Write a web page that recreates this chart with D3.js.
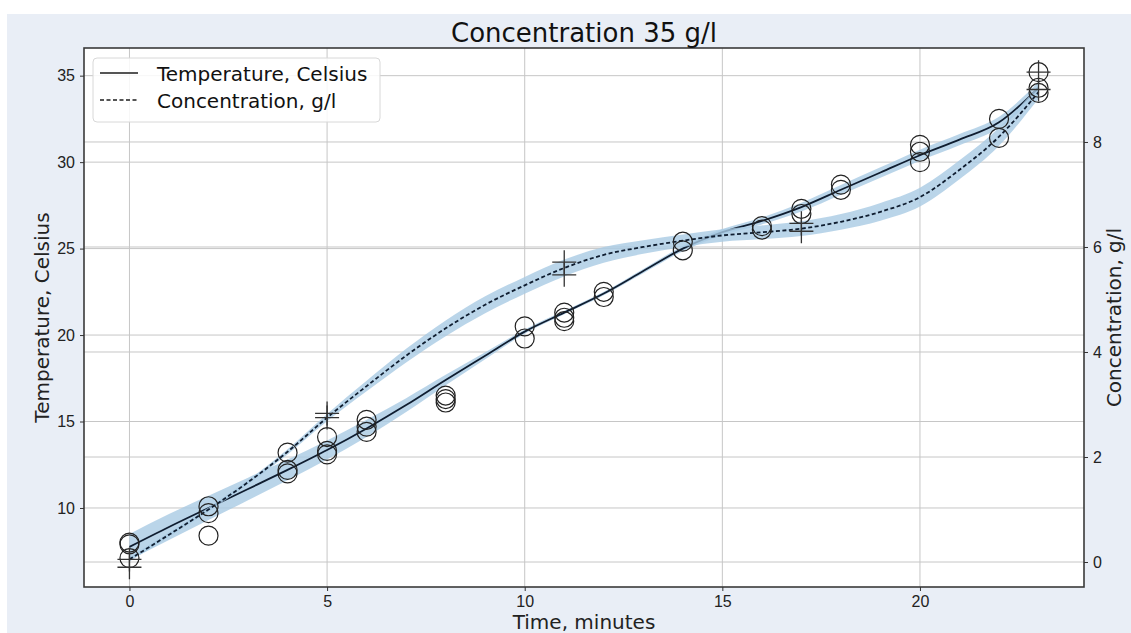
<!DOCTYPE html>
<html>
<head>
<meta charset="utf-8">
<script src="https://cdn.jsdelivr.net/npm/d3@7"></script>
<style>
	body { margin: 0; background: #ffffff; }
	svg { display: block; font-family: "DejaVu Sans", sans-serif; }
	.axis text { font-size: 16px; fill: #222; }
	.axis path { display: none; }
	.axis line { stroke: #333; }
</style>
</head>
<body>
<svg width="1131" height="633"></svg>
<script>
const w = 1131;
const h = 633;

// measured temperatures (circles), one entry per reading
const temp_times = [0, 0, 0, 2, 2, 2, 4, 4, 4, 5, 5, 5, 6, 6, 6, 8, 8, 8, 10, 10, 11, 11, 11, 12, 12,
	14, 14, 16, 16, 17, 17, 18, 18, 20, 20, 20, 22, 22, 23, 23, 23];
const temp_values = [8.0, 7.9, 7.1, 10.1, 9.7, 8.4, 13.2, 12.2, 12.0, 14.1, 13.3, 13.1, 15.1, 14.7, 14.4,
	16.5, 16.3, 16.1, 20.5, 19.8, 21.3, 21.0, 20.8, 22.5, 22.2, 25.4, 24.9, 26.3, 26.1, 27.3, 27.0,
	28.7, 28.4, 31.0, 30.6, 30.0, 32.5, 31.4, 35.2, 34.3, 34.0];

// measured concentrations (plus markers)
const conc_times = [0, 0, 5, 5, 11, 11, 17, 17, 23, 23];
const conc_values = [0.05, -0.1, 2.83, 2.75, 5.71, 5.47, 6.45, 6.3, 9.33, 9.0];

// fitted curves, with band half widths
const fit_times = [0, 1, 2, 3, 4, 5, 6, 7, 8, 9, 10, 11, 12, 13, 14, 15, 16, 17, 18, 19, 20, 21, 22, 23];
const temp_fit = [7.75, 8.9, 10.0, 11.1, 12.2, 13.35, 14.6, 15.95, 17.4, 18.8, 20.2, 21.3, 22.4, 23.7,
	25.0, 25.95, 26.6, 27.4, 28.4, 29.4, 30.4, 31.3, 32.3, 34.3];
const temp_band = [0.75, 0.75, 0.7, 0.65, 0.6, 0.55, 0.5, 0.4, 0.3, 0.2, 0.12, 0.1, 0.1, 0.12, 0.15,
	0.18, 0.2, 0.25, 0.28, 0.3, 0.32, 0.32, 0.32, 0.35];
const conc_fit = [0.05, 0.52, 1.0, 1.52, 2.1, 2.75, 3.35, 3.93, 4.45, 4.9, 5.27, 5.6, 5.85, 6.0, 6.12,
	6.22, 6.28, 6.35, 6.48, 6.67, 6.95, 7.47, 8.1, 8.95];
const conc_band = [0.04, 0.04, 0.04, 0.04, 0.05, 0.07, 0.1, 0.13, 0.15, 0.16, 0.16, 0.16, 0.15, 0.13,
	0.12, 0.12, 0.13, 0.14, 0.15, 0.17, 0.18, 0.18, 0.17, 0.12];

const x_ticks = [0, 5, 10, 15, 20];
const temp_ticks = [10, 15, 20, 25, 30, 35];
const conc_ticks = [0, 2, 4, 6, 8];

const title = "Concentration 35 g/l";
const legend_labels = ["Temperature, Celsius", "Concentration, g/l"];

const plot_left = 84, plot_right = 1084, plot_top = 48, plot_bottom = 587;
const band_color = "#a9cae3";
const line_color = "#0f1d30";

const svg = d3.select("svg");

// figure background
svg.append("rect").attr("x", 7).attr("y", 14).attr("width", w - 7).attr("height", h - 14)
	.attr("fill", "#e9eef6");
svg.append("rect").attr("x", plot_left).attr("y", plot_top)
	.attr("width", plot_right - plot_left).attr("height", plot_bottom - plot_top)
	.attr("fill", "#ffffff");

const x_scale = d3.scaleLinear().domain([-1.15, 24.15]).range([plot_left, plot_right]);
const temp_scale = d3.scaleLinear().domain([5.43, 36.6]).range([plot_bottom, plot_top]);
const conc_scale = d3.scaleLinear().domain([-0.476, 9.79]).range([plot_bottom, plot_top]);

// grid
const grid = svg.append("g").attr("stroke", "#c6c6c6").attr("stroke-width", 1);
x_ticks.forEach((t) => {
	grid.append("line").attr("x1", x_scale(t)).attr("x2", x_scale(t)).attr("y1", plot_top).attr("y2", plot_bottom);
});
temp_ticks.forEach((t) => {
	grid.append("line").attr("x1", plot_left).attr("x2", plot_right).attr("y1", temp_scale(t)).attr("y2", temp_scale(t));
});
conc_ticks.forEach((t) => {
	grid.append("line").attr("x1", plot_left).attr("x2", plot_right).attr("y1", conc_scale(t)).attr("y2", conc_scale(t));
});

// bands and fitted lines
function draw_fit(values, band, scale, dashed) {
	const rows = fit_times.map((t, i) => ({ t: t, v: values[i], b: band[i] }));
	const area = d3.area()
		.x((d) => x_scale(d.t))
		.y0((d) => scale(d.v - d.b))
		.y1((d) => scale(d.v + d.b))
		.curve(d3.curveMonotoneX);
	svg.append("path").datum(rows).attr("d", area).attr("fill", band_color).attr("opacity", 0.8);
	const line = d3.line()
		.x((d) => x_scale(d.t))
		.y((d) => scale(d.v))
		.curve(d3.curveMonotoneX);
	svg.append("path").datum(rows).attr("d", line)
		.attr("fill", "none")
		.attr("stroke", line_color)
		.attr("stroke-width", 1.8)
		.attr("stroke-dasharray", dashed ? "4,2.5" : null);
}

draw_fit(temp_fit, temp_band, temp_scale, false);
draw_fit(conc_fit, conc_band, conc_scale, true);

// measurement markers
temp_times.forEach((t, i) => {
	svg.append("circle")
		.attr("cx", x_scale(t))
		.attr("cy", temp_scale(temp_values[i]))
		.attr("r", 9.5)
		.attr("fill", "none")
		.attr("stroke", "#222")
		.attr("stroke-width", 1.2);
});

conc_times.forEach((t, i) => {
	const cx = x_scale(t);
	const cy = conc_scale(conc_values[i]);
	svg.append("path")
		.attr("d", `M${cx - 12},${cy}H${cx + 12}M${cx},${cy - 12}V${cy + 12}`)
		.attr("stroke", "#333")
		.attr("stroke-width", 1.3);
});

// frame
svg.append("rect").attr("x", plot_left).attr("y", plot_top)
	.attr("width", plot_right - plot_left).attr("height", plot_bottom - plot_top)
	.attr("fill", "none").attr("stroke", "#3a3a3a").attr("stroke-width", 1.6);

// axes
svg.append("g")
	.attr("class", "axis")
	.attr("transform", `translate(0, ${plot_bottom})`)
	.call(d3.axisBottom(x_scale).tickValues(x_ticks).tickSize(4).tickPadding(5));

svg.append("g")
	.attr("class", "axis")
	.attr("transform", `translate(${plot_left}, 0)`)
	.call(d3.axisLeft(temp_scale).tickValues(temp_ticks).tickSize(4).tickPadding(5));

svg.append("g")
	.attr("class", "axis")
	.attr("transform", `translate(${plot_right}, 0)`)
	.call(d3.axisRight(conc_scale).tickValues(conc_ticks).tickSize(4).tickPadding(5));

// titles
svg.append("text").attr("x", (plot_left + plot_right) / 2).attr("y", 42)
	.attr("text-anchor", "middle").attr("font-size", 26).attr("fill", "#111").text(title);

svg.append("text").attr("x", (plot_left + plot_right) / 2).attr("y", 629)
	.attr("text-anchor", "middle").attr("font-size", 20).attr("fill", "#222").text("Time, minutes");

svg.append("text")
	.attr("transform", `translate(49, ${(plot_top + plot_bottom) / 2}) rotate(-90)`)
	.attr("text-anchor", "middle").attr("font-size", 20).attr("fill", "#222").text(legend_labels[0]);

svg.append("text")
	.attr("transform", `translate(1121, ${(plot_top + plot_bottom) / 2}) rotate(-90)`)
	.attr("text-anchor", "middle").attr("font-size", 20).attr("fill", "#222").text(legend_labels[1]);

// legend
const legend = svg.append("g");
legend.append("rect").attr("x", 93).attr("y", 58).attr("width", 287).attr("height", 64).attr("rx", 4)
	.attr("fill", "#ffffff").attr("fill-opacity", 0.85).attr("stroke", "#d8d8d8");
legend_labels.forEach((label, i) => {
	const y = 73 + i * 27;
	legend.append("line").attr("x1", 100).attr("x2", 138).attr("y1", y).attr("y2", y)
		.attr("stroke", "#555").attr("stroke-width", 2)
		.attr("stroke-dasharray", i == 1 ? "4,2.5" : null);
	legend.append("text").attr("x", 157).attr("y", y + 8).attr("font-size", 20).attr("fill", "#111").text(label);
});
</script>
</body>
</html>
